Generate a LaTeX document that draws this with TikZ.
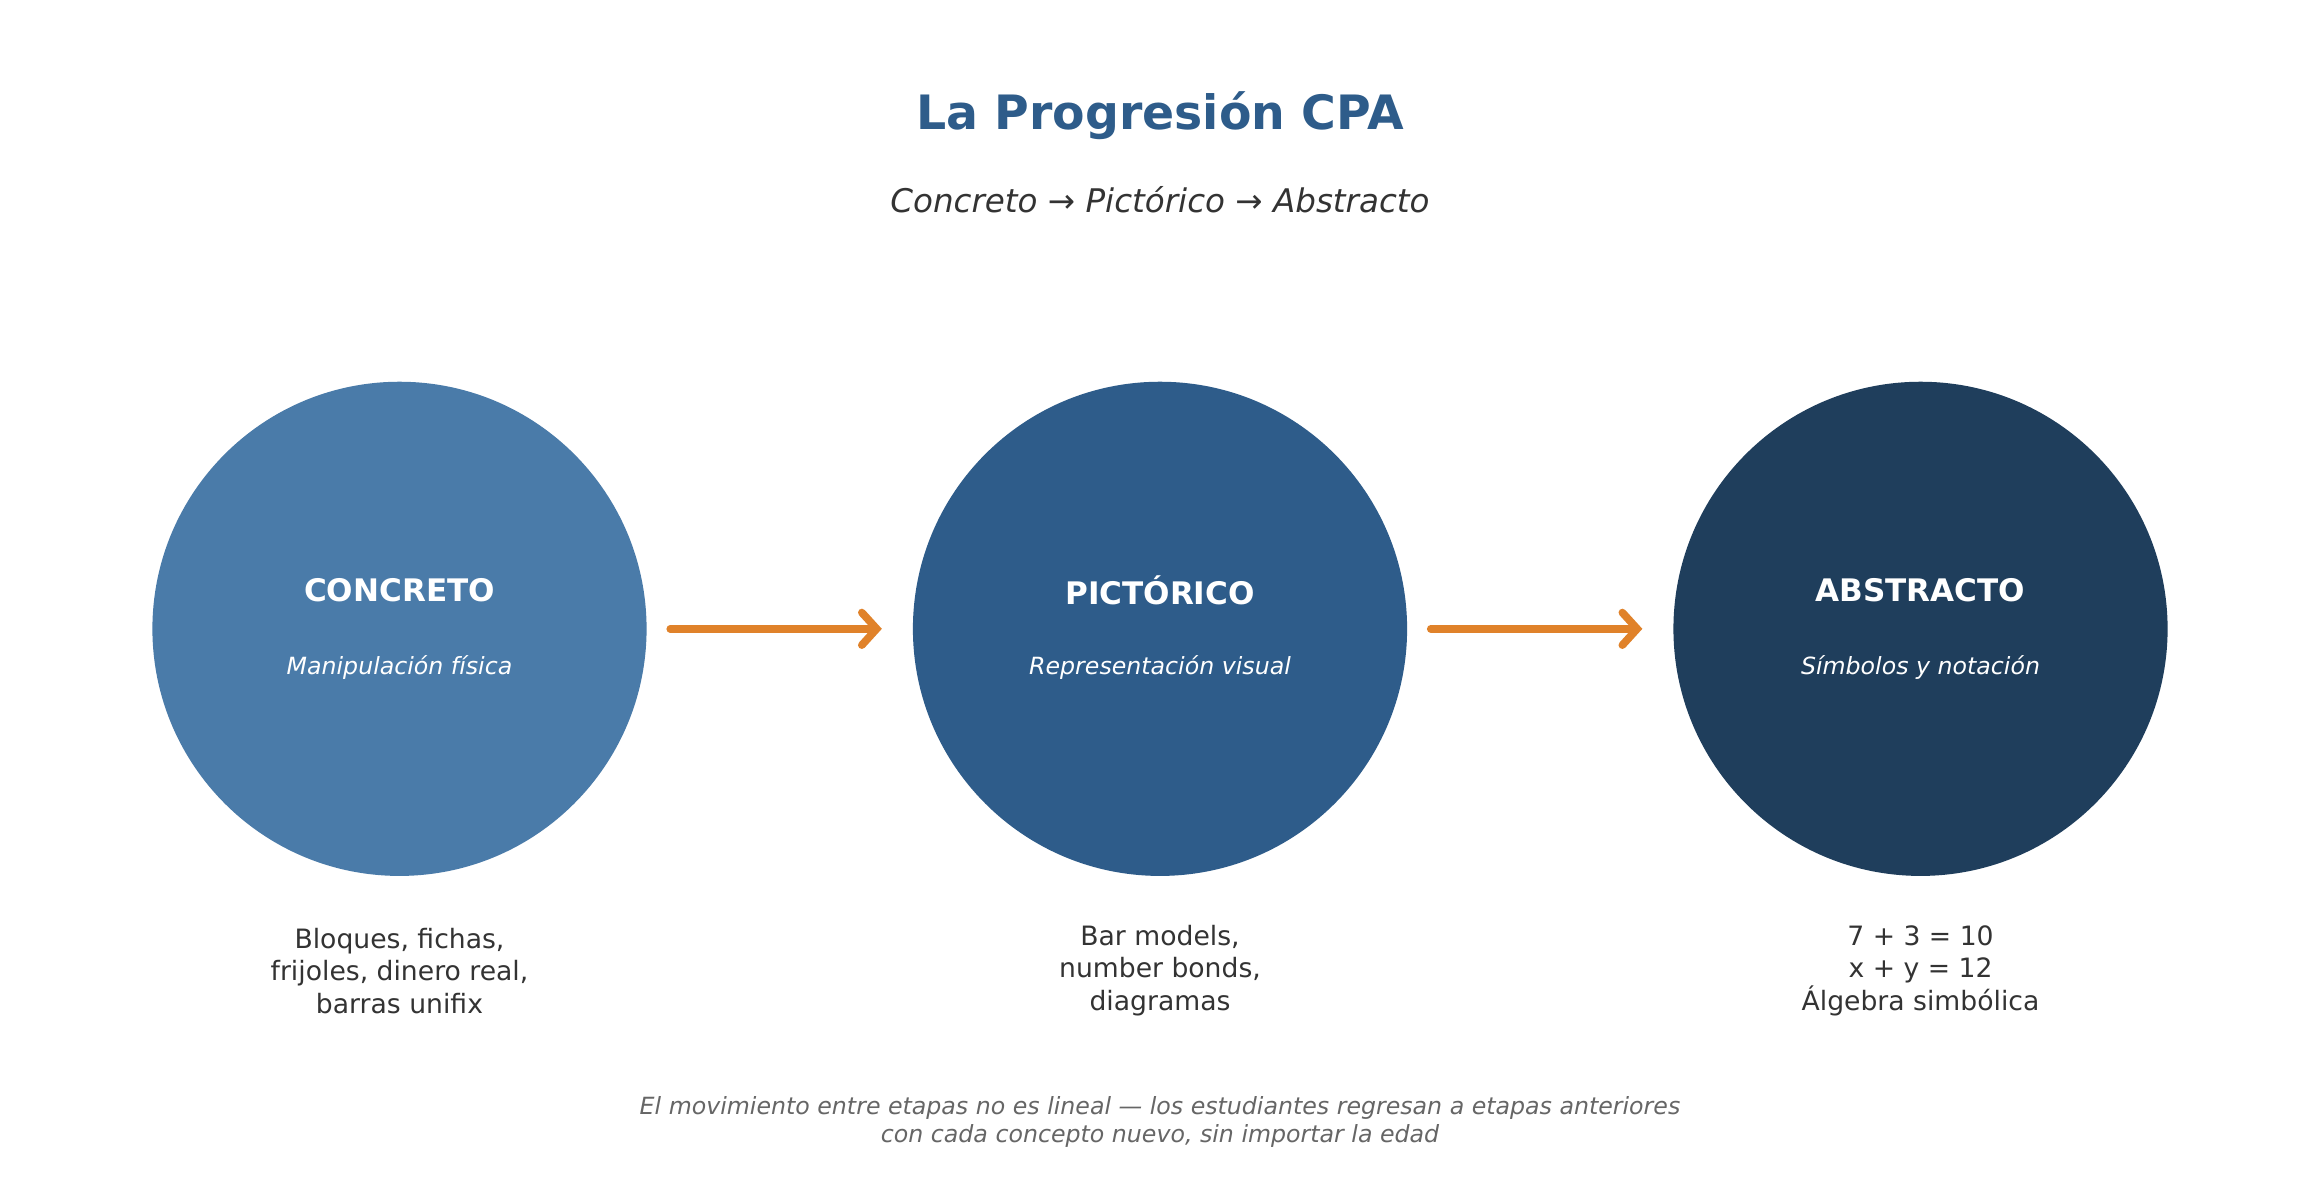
\documentclass[tikz,border=0pt]{standalone}
\usepackage{fontspec}
\setmainfont{DejaVu Sans}
\usetikzlibrary{arrows.meta}
\definecolor{cA}{HTML}{4A7BA9}
\definecolor{cB}{HTML}{2E5C8A}
\definecolor{cC}{HTML}{1F3E5C}
\definecolor{orng}{HTML}{E0822A}
\definecolor{txt}{HTML}{333333}
\definecolor{gry}{HTML}{666666}
\begin{document}
\begin{tikzpicture}[x=0.5pt,y=-0.5pt,
  stage/.style={circle,minimum size=334*0.5pt,inner sep=0pt},
  ttl/.style={font=\bfseries\fontsize{10.5}{12}\selectfont,text=white},
  sub/.style={font=\itshape\fontsize{8}{10}\selectfont,text=white},
  ex/.style={font=\fontsize{9}{11}\selectfont,text=txt,align=center},
  flow/.style={orng,line width=2.6pt,line cap=round,-{Straight Barb[length=5pt,width=11pt,line cap=round]}}]
\useasboundingbox[fill=white] (0,0) rectangle (1568,797);
\node[font=\bfseries\fontsize{16}{19}\selectfont,text=cB] (title) at (784,78) {La Progresión CPA};
\node[font=\itshape\fontsize{11}{13}\selectfont,text=txt] (subt) at (784,135) {Concreto → Pictórico → Abstracto};
\node[stage,fill=cA] (c1) at (270,425) {};
\node[stage,fill=cB] (c2) at (784,425) {};
\node[stage,fill=cC] (c3) at (1298,425) {};
\foreach \n/\t/\s in {c1/CONCRETO/Manipulación física,c2/PICTÓRICO/Representación visual,c3/ABSTRACTO/Símbolos y notación}{
  \node[ttl] (\n t) at ([yshift=13pt]\n) {\t};
  \node[sub] (\n s) at ([yshift=-13pt]\n) {\s};
}
\coordinate (a1) at (453,425); \coordinate (b1) at (596,425);
\coordinate (a2) at (967,425); \coordinate (b2) at (1110,425);
\draw[flow] (a1) -- (b1);
\draw[flow] (a2) -- (b2);
\node[ex] (e1) at (270,656) {Bloques, fichas,\\frijoles, dinero real,\\barras unifix};
\node[ex] (e2) at (784,656) {Bar models,\\number bonds,\\diagramas};
\node[ex] (e3) at (1298,656) {7 + 3 = 10\\x + y = 12\\Álgebra simbólica};
\node[font=\itshape\fontsize{8}{9.5}\selectfont,text=gry,align=center] (foot) at (784,758) {El movimiento entre etapas no es lineal — los estudiantes regresan a etapas anteriores\\con cada concepto nuevo, sin importar la edad};
\end{tikzpicture}
\end{document}
